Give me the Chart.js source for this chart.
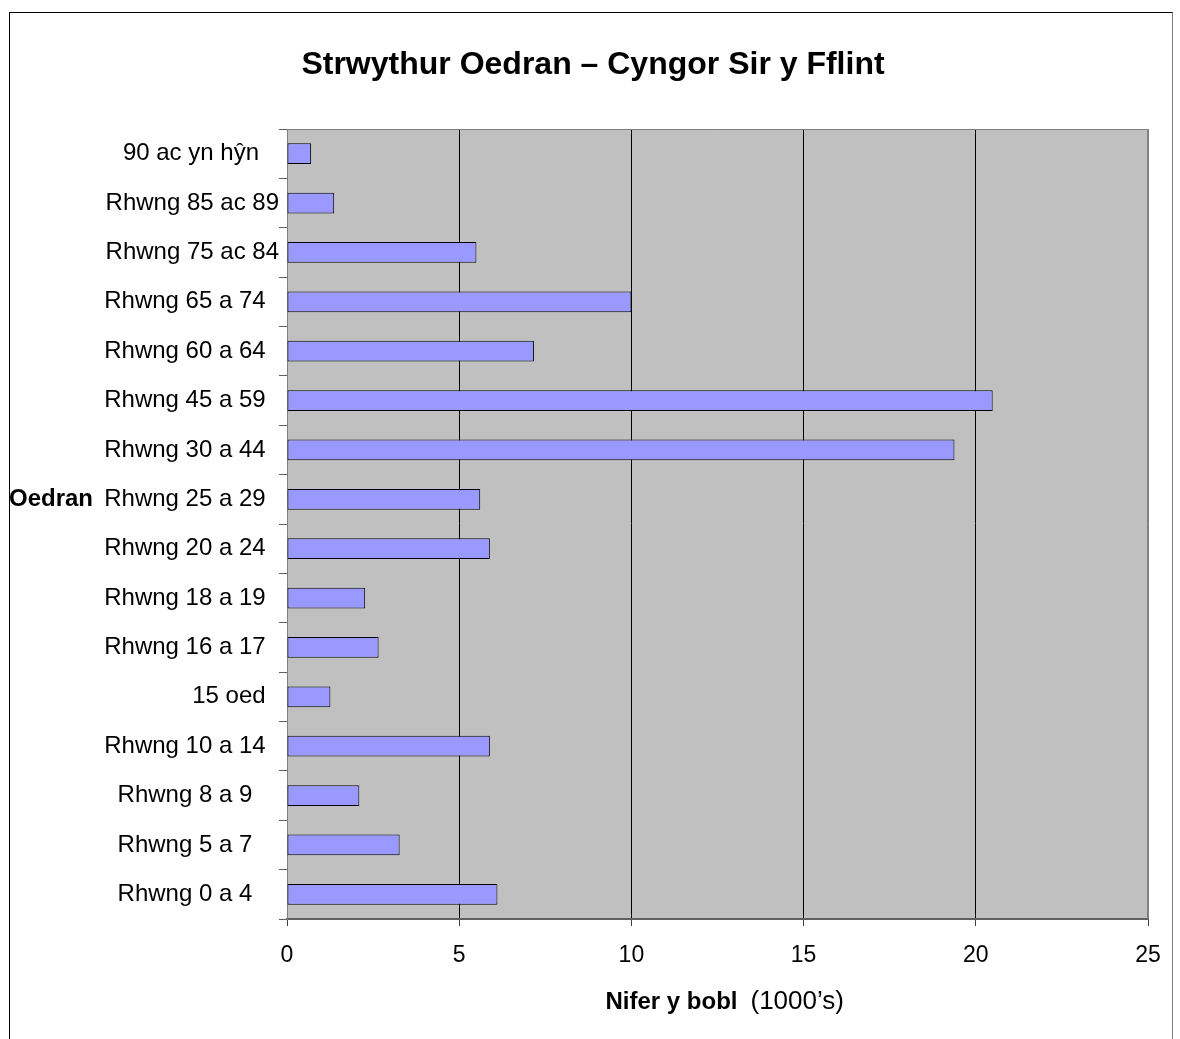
<!DOCTYPE html>
<html>
<head>
<meta charset="utf-8">
<script src="https://cdn.jsdelivr.net/npm/chart.js@4.4.0/dist/chart.umd.min.js"></script>
<style>
  html, body { margin: 0; padding: 0; background: #fff; }
  #wrap { position: relative; width: 1180px; height: 1039px; overflow: hidden; }
  #frame { position: absolute; left: 9px; top: 12px; width: 1162px; height: 1100px; border: 1px solid #000; border-right-color: #808080; }
  canvas { position: absolute; left: 0; top: 0; }
</style>
</head>
<body>
<div id="wrap">
  <div id="frame"></div>
  <canvas id="ageChart" width="1180" height="1039"></canvas>
</div>
<script>
// age bands, top of the chart first (trailing spaces as in the source labels)
const ageGroups = [
  "90 ac yn hŷn   ",
  "Rhwng 85 ac 89",
  "Rhwng 75 ac 84",
  "Rhwng 65 a 74  ",
  "Rhwng 60 a 64  ",
  "Rhwng 45 a 59  ",
  "Rhwng 30 a 44  ",
  "Rhwng 25 a 29  ",
  "Rhwng 20 a 24  ",
  "Rhwng 18 a 19  ",
  "Rhwng 16 a 17  ",
  "15 oed  ",
  "Rhwng 10 a 14  ",
  "Rhwng 8 a 9    ",
  "Rhwng 5 a 7    ",
  "Rhwng 0 a 4    "
];

// people, in thousands
const population = [0.70, 1.37, 5.50, 10.0, 7.17, 20.49, 19.38, 5.61, 5.89, 2.27, 2.66, 1.26, 5.89, 2.10, 3.27, 6.11];

const xMin = 0;
const xMax = 25;
const xStep = 5;

const chartTitle = "Strwythur Oedran \u2013 Cyngor Sir y Fflint";
const yTitle = "Oedran";
const xTitleBold = "Nifer y bobl";
const xTitleUnit = "(1000\u2019s)";

const FONT = "'Liberation Sans', Arial, sans-serif";

// grey plot background, plot frame, the title and the free-standing axis titles
const excelLook = {
  id: "excelLook",
  beforeDraw(chart) {
    const { ctx, chartArea: a } = chart;
    ctx.save();
    ctx.fillStyle = "#c0c0c0";
    ctx.fillRect(a.left, a.top, a.right - a.left, a.bottom - a.top);
    ctx.restore();
  },
  beforeDatasetsDraw(chart) {
    const { ctx, chartArea: a } = chart;
    ctx.save();
    ctx.strokeStyle = "#808080";
    ctx.lineWidth = 1;
    ctx.beginPath();
    ctx.moveTo(a.left, a.top + 0.5);
    ctx.lineTo(a.right - 0.5, a.top + 0.5);
    ctx.lineTo(a.right - 0.5, a.bottom);
    ctx.stroke();
    ctx.restore();
  },
  afterDraw(chart) {
    const { ctx, scales } = chart;
    ctx.save();
    ctx.fillStyle = "#000";
    ctx.textBaseline = "middle";

    // title, centred on the page frame
    ctx.font = "bold 32px " + FONT;
    ctx.textAlign = "center";
    ctx.fillText(chartTitle, 593, 65);

    // "Oedran" sits level with the 25-29 row
    ctx.font = "bold 24px " + FONT;
    ctx.textAlign = "left";
    ctx.fillText(yTitle, 9, scales.y.getPixelForValue(7));

    // x title: bold words plus the unit in normal weight
    const mid = (scales.x.left + scales.x.right) / 2;
    ctx.font = "bold 24px " + FONT;
    ctx.textAlign = "right";
    ctx.fillText(xTitleBold, mid + 20, 1002);
    ctx.font = "26px " + FONT;
    ctx.textAlign = "left";
    ctx.fillText(xTitleUnit, mid + 33, 1002);
    ctx.restore();
  }
};

new Chart(document.getElementById("ageChart"), {
  type: "bar",
  data: {
    labels: ageGroups,
    datasets: [{
      data: population,
      backgroundColor: "#9999ff",
      borderColor: "#000",
      borderWidth: 1,
      borderSkipped: false,
      categoryPercentage: 1,
      barPercentage: 0.42
    }]
  },
  options: {
    indexAxis: "y",
    responsive: false,
    animation: false,
    devicePixelRatio: 1,
    layout: { padding: { top: 129, right: 32, bottom: 0, left: 0 } },
    plugins: {
      legend: { display: false },
      tooltip: { enabled: false },
      title: { display: false }
    },
    scales: {
      x: {
        type: "linear",
        min: xMin,
        max: xMax,
        ticks: {
          stepSize: xStep,
          color: "#000",
          font: { family: FONT, size: 23 },
          padding: 16
        },
        grid: {
          color: c => c.tick.value === xMax ? "#808080" : (c.tick.value === xMin ? "rgba(0,0,0,0)" : "#000"),
          tickColor: "#404040",
          tickLength: 7,
          lineWidth: 1
        },
        border: { color: "#606060", width: 2 },
        afterFit: s => { s.height = 120; }
      },
      y: {
        type: "category",
        ticks: {
          color: "#000",
          font: { family: FONT, size: 24 },
          padding: 0,
          autoSkip: false
        },
        grid: {
          offset: true,
          drawOnChartArea: false,
          color: "#606060",
          tickLength: 8
        },
        border: { color: "#808080", width: 1 },
        afterFit: s => { s.width = 287; }
      }
    }
  },
  plugins: [excelLook]
});
</script>
</body>
</html>
